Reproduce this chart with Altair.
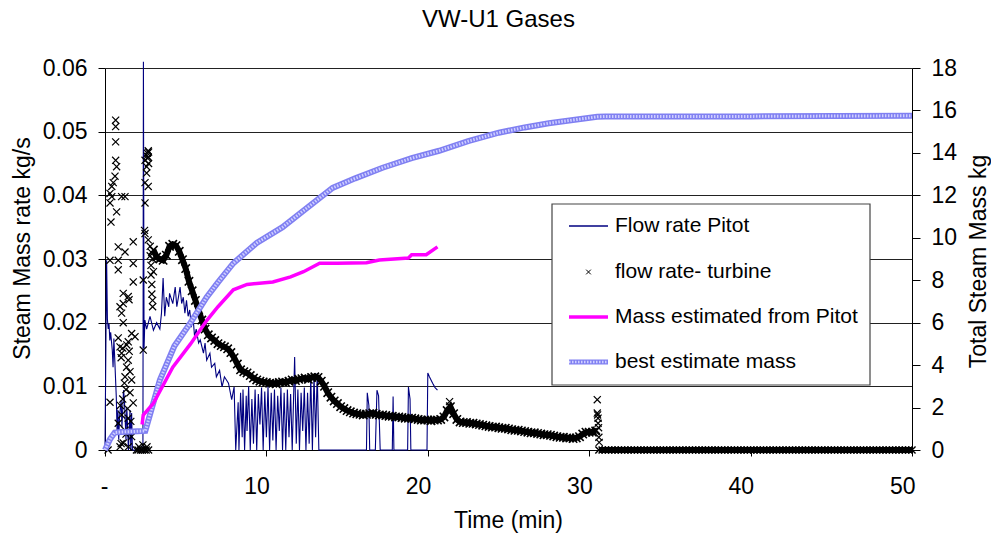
import altair as alt
import pandas as pd

FONT = "Liberation Sans"

title_text = "VW-U1 Gases"
x_title = "Time (min)"
y_left_title = "Steam Mass rate kg/s"
y_right_title = "Total Steam Mass kg"
series_names = ["Flow rate Pitot", "flow rate- turbine",
                "Mass estimated from Pitot", "best estimate mass"]
x_ticks = [0, 10, 20, 30, 40, 50]
y_left_ticks = [0, 0.01, 0.02, 0.03, 0.04, 0.05, 0.06]
y_right_ticks = [0, 2, 4, 6, 8, 10, 12, 14, 16, 18]

# Flow rate Pitot (kg/s): (time min, rate)
pitot_pts = [
    (0.0, 0.0), (0.1, 0.0298), (0.15, 0.0205), (0.2, 0.019), (0.25, 0.0198), (0.3, 0.0172),
    (0.35, 0.0185), (0.45, 0.0157), (0.5, 0.013), (0.55, 0.0175), (0.6, 0.0145), (0.7, 0.0083),
    (0.75, 0.0027), (0.8, 0.0063), (0.85, 0.0016), (0.9, 0.0052), (1.0, 0.0078), (1.05, 0.0036),
    (1.15, 0.0094), (1.2, 0.008), (1.3, 0.0016), (1.35, 0.0068), (1.4, 0.0036), (1.45, 0.0),
    (1.55, 0.0063), (1.6, 0.0), (1.65, 0.0058), (1.7, 0.0), (2.35, 0.0), (2.38, 0.061),
    (2.42, 0.016), (2.47, 0.0204), (2.58, 0.019), (2.79, 0.021), (3.0, 0.0188), (3.2, 0.02),
    (3.4, 0.019), (3.5, 0.0215), (3.6, 0.027), (3.7, 0.021), (3.8, 0.024), (3.95, 0.0225),
    (4.0, 0.0246), (4.2, 0.023), (4.35, 0.0256), (4.45, 0.0225), (4.55, 0.024), (4.65, 0.0256),
    (4.75, 0.023), (4.85, 0.024), (4.95, 0.0215), (5.05, 0.0235), (5.15, 0.021), (5.25, 0.022),
    (5.35, 0.0193), (5.45, 0.021), (5.55, 0.0178), (5.65, 0.019), (5.8, 0.0168), (5.9, 0.0173),
    (6.1, 0.0152), (6.2, 0.0168), (6.3, 0.0141), (6.5, 0.0152), (6.6, 0.013), (6.8, 0.0136),
    (6.9, 0.0115), (7.1, 0.0125), (7.25, 0.0099), (7.4, 0.0115), (7.65, 0.0105), (7.85, 0.0079),
    (8.0, 0.0099), (8.1, 0.0),
    (8.25, 0.0075), (8.3, 0.0), (8.4, 0.009), (8.5, 0.002), (8.55, 0.0095), (8.65, 0.0),
    (8.75, 0.0085), (8.8, 0.003), (8.9, 0.01), (9.0, 0.0), (9.1, 0.008), (9.2, 0.001),
    (9.3, 0.0095), (9.4, 0.0), (9.5, 0.0088), (9.6, 0.004), (9.7, 0.0098), (9.8, 0.0),
    (9.9, 0.0092), (10.0, 0.002), (10.1, 0.01), (10.2, 0.0), (10.3, 0.009), (10.4, 0.0015),
    (10.5, 0.0095), (10.6, 0.0), (10.7, 0.0085), (10.8, 0.003), (10.9, 0.0098), (11.0, 0.0),
    (11.1, 0.009), (11.2, 0.0), (11.3, 0.0095), (11.4, 0.002), (11.5, 0.0088), (11.6, 0.0),
    (11.75, 0.0146), (11.85, 0.001), (11.95, 0.0095), (12.05, 0.0), (12.15, 0.009), (12.25, 0.003),
    (12.35, 0.0098), (12.45, 0.0), (12.55, 0.009), (12.65, 0.001), (12.75, 0.0115), (12.85, 0.0),
    (12.95, 0.0118), (13.05, 0.002), (13.15, 0.0121), (13.25, 0.0),
    (16.2, 0.0), (16.25, 0.009), (16.35, 0.007), (16.4, 0.0), (16.75, 0.0), (16.85, 0.0094),
    (16.95, 0.0085), (17.05, 0.0), (17.8, 0.0), (17.85, 0.0084), (17.9, 0.0), (18.75, 0.0),
    (18.8, 0.0099), (18.9, 0.008), (18.95, 0.0), (19.95, 0.0), (20.0, 0.0121), (20.1, 0.0115),
    (20.3, 0.0105), (20.45, 0.0098), (20.6, 0.0094),
]

# flow rate- turbine (kg/s): scattered early readings (time min, rate)
turbine_scatter_pts = [
    (0.19, 0.0), (0.31, 0.0403), (0.31, 0.0388), (0.31, 0.0298), (0.31, 0.0075), (0.37, 0.0358),
    (0.42, 0.0414), (0.42, 0.0398), (0.51, 0.042), (0.62, 0.043), (0.66, 0.0518), (0.66, 0.0508),
    (0.66, 0.0484), (0.66, 0.0455), (0.72, 0.0445), (0.72, 0.0374), (0.82, 0.0319), (0.82, 0.0298),
    (0.82, 0.0283), (0.82, 0.0176), (0.82, 0.0042), (0.93, 0.0225), (0.93, 0.0162), (0.93, 0.0005),
    (0.95, 0.007), (1.0, 0.0145), (1.0, 0.001), (1.03, 0.0398), (1.03, 0.0215), (1.03, 0.0152),
    (1.03, 0.0055), (1.1, 0.016), (1.1, 0.008), (1.13, 0.0246), (1.13, 0.023), (1.13, 0.02),
    (1.13, 0.0011), (1.2, 0.0105), (1.24, 0.0398), (1.24, 0.0311), (1.24, 0.0115), (1.24, 0.0031),
    (1.3, 0.0095), (1.3, 0.0025), (1.34, 0.013), (1.35, 0.0165), (1.4, 0.0065), (1.44, 0.0241),
    (1.44, 0.017), (1.44, 0.0141), (1.44, 0.005), (1.45, 0.0005), (1.49, 0.0236), (1.5, 0.0155),
    (1.55, 0.0123), (1.55, 0.009), (1.6, 0.0045), (1.65, 0.0183), (1.65, 0.011), (1.65, 0.0021),
    (1.75, 0.0327), (1.75, 0.0293), (1.75, 0.0264), (1.75, 0.0074), (1.86, 0.0178), (1.95, 0.0),
    (2.05, 0.0), (2.1, 0.0005), (2.2, 0.0), (2.3, 0.0), (2.35, 0.0008), (2.37, 0.0267),
    (2.37, 0.0157), (2.45, 0.0345), (2.45, 0.0), (2.48, 0.0455), (2.48, 0.042), (2.48, 0.0388),
    (2.48, 0.034), (2.55, 0.0), (2.58, 0.0445), (2.58, 0.0435), (2.6, 0.0462), (2.6, 0.0005),
    (2.63, 0.0466), (2.65, 0.0458), (2.68, 0.047), (2.68, 0.046), (2.68, 0.0414), (2.68, 0.033),
    (2.7, 0.0468), (2.7, 0.045), (2.7, 0.0), (2.8, 0.032), (2.8, 0.0305), (2.85, 0.029),
    (2.85, 0.0275), (2.89, 0.031), (2.9, 0.026), (2.9, 0.0245), (2.95, 0.0235), (2.95, 0.0225),
    (2.95, 0.03), (3.0, 0.028), (21.35, 0.0076),
    (30.45, 0.0031), (30.5, 0.0079), (30.5, 0.0058), (30.52, 0.0055), (30.55, 0.0042),
    (30.55, 0.005), (30.58, 0.0035), (30.6, 0.002), (30.62, 0.0012),
]

# flow rate- turbine, regular record every 0.2 min from 3.0 min (one row per minute)
turbine_band_start = 3.0
turbine_band_step = 0.2
turbine_band_vals = [
    0.0314, 0.0303, 0.0300, 0.0298, 0.0306,
    0.0320, 0.0323, 0.0321, 0.0312, 0.0299,
    0.0285, 0.0265, 0.0250, 0.0235, 0.0220,
    0.0204, 0.0190, 0.0181, 0.0176, 0.0172,
    0.0167, 0.0164, 0.0162, 0.0159, 0.0153,
    0.0145, 0.0135, 0.0126, 0.0123, 0.0121,
    0.0117, 0.0113, 0.0110, 0.0108, 0.0107,
    0.0106, 0.0105, 0.0105, 0.0104, 0.0106,
    0.0107, 0.0106, 0.0108, 0.0110, 0.0109,
    0.0111, 0.0112, 0.0113, 0.0111, 0.0114,
    0.0115, 0.0114, 0.0108, 0.0100, 0.0090,
    0.0083, 0.0077, 0.0073, 0.0068, 0.0065,
    0.0062, 0.0060, 0.0058, 0.0057, 0.0056,
    0.0055, 0.0056, 0.0057, 0.0058, 0.0056,
    0.0055, 0.0055, 0.0054, 0.0053, 0.0053,
    0.0052, 0.0052, 0.0051, 0.0050, 0.0050,
    0.0050, 0.0049, 0.0048, 0.0047, 0.0047,
    0.0047, 0.0046, 0.0047, 0.0047, 0.0048,
    0.0052, 0.0062, 0.0068, 0.0057, 0.0048,
    0.0044, 0.0043, 0.0043, 0.0042, 0.0042,
    0.0041, 0.0040, 0.0039, 0.0038, 0.0037,
    0.0036, 0.0036, 0.0035, 0.0034, 0.0034,
    0.0033, 0.0032, 0.0031, 0.0031, 0.0030,
    0.0029, 0.0028, 0.0027, 0.0027, 0.0026,
    0.0025, 0.0024, 0.0024, 0.0023, 0.0022,
    0.0021, 0.0020, 0.0020, 0.0019, 0.0019,
    0.0018, 0.0019, 0.0021, 0.0025, 0.0028,
    0.0028, 0.0028, 0.0030,
]

# flow rate- turbine after the event, every 0.2 min from 30.6 min
turbine_zero_start = 30.6
turbine_zero_step = 0.2
turbine_zero_vals = [
    0, 0, 0, 0, 0, 0, 0, 0, 0, 0,
    0, 0, 0, 0, 0, 0, 0, 0, 0, 0,
    0, 0, 0, 0, 0, 0, 0, 0, 0, 0,
    0, 0, 0, 0, 0, 0, 0, 0, 0, 0,
    0, 0, 0, 0, 0, 0, 0, 0, 0, 0,
    0, 0, 0, 0, 0, 0, 0, 0, 0, 0,
    0, 0, 0, 0, 0, 0, 0, 0, 0, 0,
    0, 0, 0, 0, 0, 0, 0, 0, 0, 0,
    0, 0, 0, 0, 0, 0, 0, 0, 0, 0,
    0, 0, 0, 0, 0, 0, 0, 0,
]

# Mass estimated from Pitot (kg)
pitot_mass_pts = [
    (2.3, 1.2), (2.37, 1.65), (3.0, 2.2), (4.2, 3.9), (5.3, 5.0), (6.3, 6.1), (7.0, 6.75),
    (7.95, 7.55), (8.8, 7.8), (10.4, 7.92), (11.5, 8.16), (12.3, 8.4), (13.3, 8.8), (14.4, 8.8),
    (16.2, 8.82), (17.0, 8.95), (18.8, 9.05), (19.0, 9.2), (19.9, 9.2), (20.6, 9.57),
]

# best estimate mass (kg)
best_mass_pts = [
    (0.0, 0.0), (0.3, 0.5), (0.6, 0.82), (1.0, 0.85), (2.0, 0.88), (2.5, 0.9), (3.4, 3.3),
    (4.3, 4.9), (5.3, 6.0), (6.3, 7.2), (7.0, 7.9), (7.95, 8.8), (9.4, 9.76), (11.0, 10.5),
    (12.5, 11.4), (14.1, 12.35), (15.5, 12.8), (17.2, 13.3), (19.0, 13.75), (20.7, 14.1),
    (22.5, 14.55), (24.4, 14.95), (26.0, 15.2), (27.5, 15.4), (29.0, 15.55), (30.5, 15.7),
    (31.0, 15.72), (40.0, 15.72), (50.0, 15.75),
]

# ---------------- data frames ----------------
pitot_df = pd.DataFrame(pitot_pts, columns=["t", "rate"])
band_df = pd.DataFrame({
    "t": [turbine_band_start + turbine_band_step * i for i in range(len(turbine_band_vals))],
    "rate": turbine_band_vals})
zero_df = pd.DataFrame({
    "t": [turbine_zero_start + turbine_zero_step * i for i in range(len(turbine_zero_vals))],
    "rate": turbine_zero_vals})
scatter_df = pd.DataFrame(turbine_scatter_pts, columns=["t", "rate"])
pmass_df = pd.DataFrame(pitot_mass_pts, columns=["t", "kg"])
bmass_df = pd.DataFrame(best_mass_pts, columns=["t", "kg"])

# ---------------- scales / axes ----------------
AX_FS = 23
x_scale = alt.Scale(domain=[0, 50], nice=False, zero=False)
yl_scale = alt.Scale(domain=[0, 0.06], nice=False)
yr_scale = alt.Scale(domain=[0, 18], nice=False)

x_axis = alt.Axis(values=x_ticks, title=x_title, grid=False, tickSize=6, labelPadding=19,
                  labelAlign="right", labelOffset=3, labelFlush=False, labelOverlap=False,
                  labelExpr="datum.value == 0 ? '-' : datum.label",
                  titleX=403, titleY=70, titleBaseline="middle", titleAlign="center")
yl_axis = alt.Axis(values=y_left_ticks, format=".2~f", title=y_left_title, grid=True,
                   gridColor="#222", gridWidth=1, tickSize=7, labelPadding=11,
                   titleAngle=270, titleX=-83, titleY=180, titleBaseline="middle",
                   titleAlign="center", labelOverlap=False)
yr_axis = alt.Axis(values=y_right_ticks, title=y_right_title, orient="right", grid=False,
                   tickSize=8, labelPadding=11, titleAngle=270, titleX=66, titleY=193,
                   titleBaseline="middle", titleAlign="center", labelOverlap=False)

X = alt.X("t:Q", scale=x_scale, axis=x_axis)
YL = alt.Y("rate:Q", scale=yl_scale, axis=yl_axis)
YR = alt.Y("kg:Q", scale=yr_scale, axis=yr_axis)

XSHAPE = "M-1,-1L1,1M1,-1L-1,1"

pitot_line = alt.Chart(pitot_df).mark_line(color="#000080", strokeWidth=1.1).encode(x=X, y=YL)
turb_scatter = alt.Chart(scatter_df).mark_point(
    shape=XSHAPE, filled=False, color="black", strokeWidth=1.2, size=50, opacity=1).encode(x=X, y=YL)
# the densely recorded turbine readings overlap into a solid band
turb_band_fill = alt.Chart(band_df).mark_line(color="black", strokeWidth=6).encode(x=X, y=YL)
turb_band = alt.Chart(band_df).mark_point(
    shape=XSHAPE, filled=False, color="black", strokeWidth=1.6, size=70, opacity=1).encode(x=X, y=YL)
turb_zero_fill = alt.Chart(zero_df).mark_line(color="black", strokeWidth=6).encode(x=X, y=YL)
turb_zero = alt.Chart(zero_df).mark_point(
    shape=XSHAPE, filled=False, color="black", strokeWidth=1.4, size=50, opacity=1).encode(x=X, y=YL)
left = alt.layer(pitot_line, turb_scatter, turb_band_fill, turb_band, turb_zero_fill, turb_zero)

BLUE_BASE = "#8080f2"
BLUE_DOTS = "#cfcfff"
blue_base = alt.Chart(bmass_df).mark_line(color=BLUE_BASE, strokeWidth=6, strokeCap="butt").encode(x=X, y=YR)
blue_dots = alt.Chart(bmass_df).mark_line(color=BLUE_DOTS, strokeWidth=3, strokeCap="butt",
                                          strokeDash=[1.5, 1.5]).encode(x=X, y=YR)
pink_line = alt.Chart(pmass_df).mark_line(color="#ff00ff", strokeWidth=3.5).encode(x=X, y=YR)
right = alt.layer(blue_base, blue_dots, pink_line)

# ---------------- legend (drawn with marks) ----------------
one = pd.DataFrame({"k": [0]})
LX0, LX1, LTX = 464, 503, 510
rows_y = [158, 204, 249, 294]
LEG_FS = 21

legend_box = alt.Chart(one).mark_rect(fill="white", stroke="#444", strokeWidth=1.2).encode(
    x=alt.value(447), x2=alt.value(765), y=alt.value(136), y2=alt.value(317))
leg_pitot = alt.Chart(one).mark_rule(color="#000080", strokeWidth=1.3).encode(
    x=alt.value(LX0), x2=alt.value(LX1), y=alt.value(rows_y[0]))
leg_turb = alt.Chart(one).mark_point(shape=XSHAPE, filled=False, color="black",
                                     strokeWidth=1, size=22, opacity=1).encode(
    x=alt.value((LX0 + LX1) / 2), y=alt.value(rows_y[1]))
leg_pink = alt.Chart(one).mark_rule(color="#ff00ff", strokeWidth=3.5).encode(
    x=alt.value(LX0), x2=alt.value(LX1), y=alt.value(rows_y[2]))
leg_blue1 = alt.Chart(one).mark_rule(color=BLUE_BASE, strokeWidth=5).encode(
    x=alt.value(LX0), x2=alt.value(LX1), y=alt.value(rows_y[3]))
leg_blue2 = alt.Chart(one).mark_rule(color=BLUE_DOTS, strokeWidth=2.5, strokeDash=[1.5, 1.5]).encode(
    x=alt.value(LX0), x2=alt.value(LX1), y=alt.value(rows_y[3]))
leg_texts = [
    alt.Chart(one).mark_text(text=name, align="left", baseline="middle", fontSize=LEG_FS,
                             font=FONT, color="black").encode(
        x=alt.value(LTX), y=alt.value(yy))
    for name, yy in zip(series_names, rows_y)
]

chart = alt.layer(
    left, right, legend_box, leg_pitot, leg_turb, leg_pink, leg_blue1, leg_blue2, *leg_texts
).resolve_scale(y="independent").properties(
    width=807, height=382,
    background="white",
    autosize=alt.AutoSizeParams(type="none"),
    padding={"left": 105, "top": 68, "right": 79, "bottom": 85},
    title=alt.TitleParams(title_text, fontSize=24, fontWeight="normal", font=FONT,
                          color="black", offset=25, dx=-10, anchor="middle"),
).configure_view(stroke=None).configure_axis(
    labelFont=FONT, titleFont=FONT, labelFontSize=AX_FS, titleFontSize=AX_FS,
    labelColor="black", titleColor="black", titleFontWeight="normal",
    domainColor="black", tickColor="black", domainWidth=1, tickWidth=1,
)

chart.save("out.html", embed_options={"renderer": "svg", "actions": False})
